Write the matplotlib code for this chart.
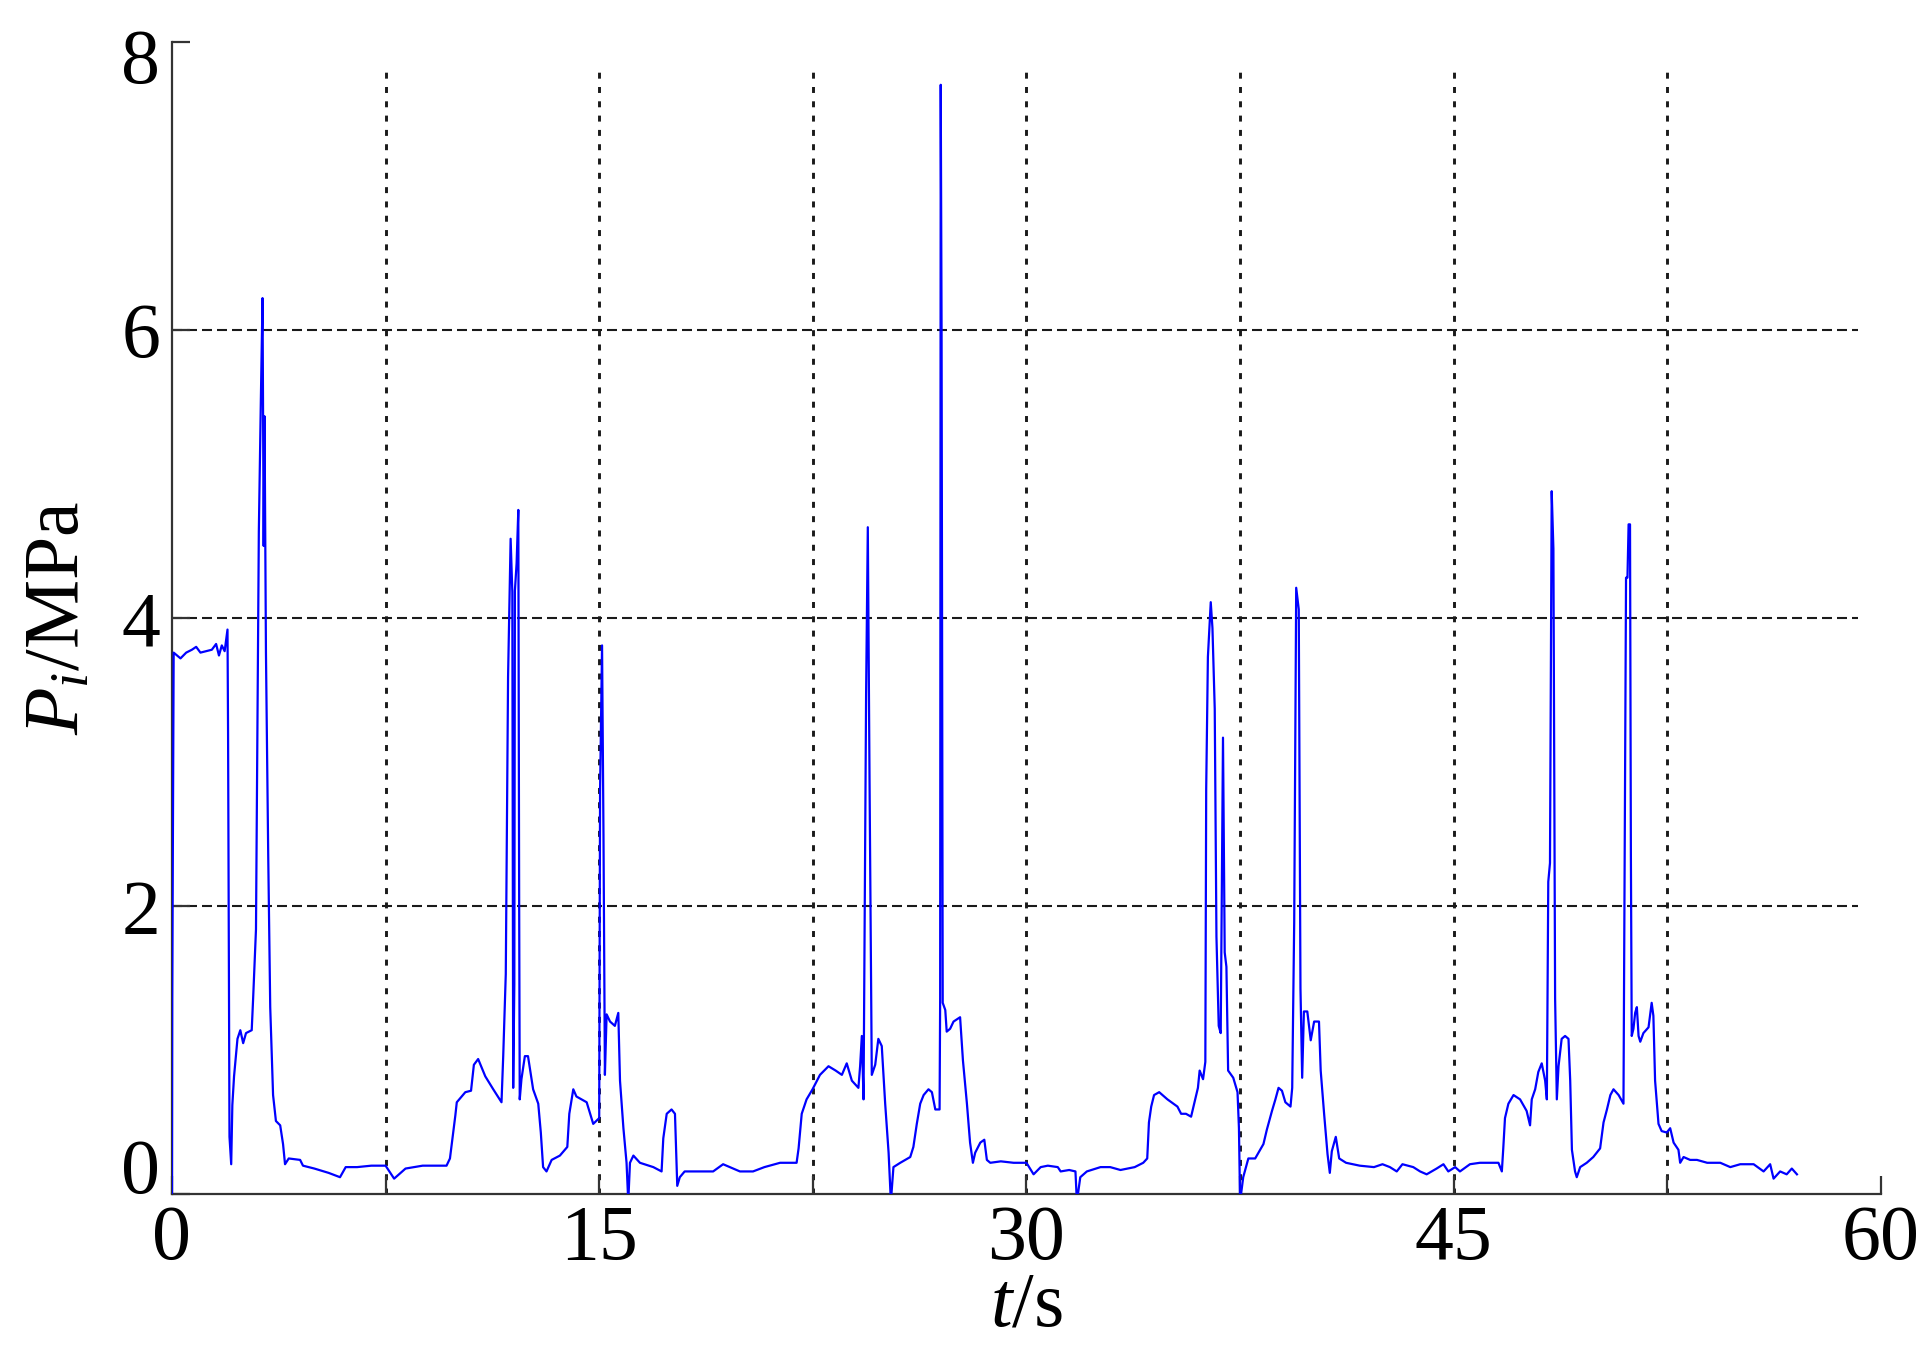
import matplotlib
matplotlib.use("Agg")
import matplotlib.pyplot as plt

plt.rcParams['font.family'] = 'Liberation Serif'
plt.rcParams['mathtext.fontset'] = 'custom'
plt.rcParams['mathtext.rm'] = 'Liberation Serif'
plt.rcParams['mathtext.it'] = 'Liberation Serif:italic'
plt.rcParams['lines.scale_dashes'] = False

# pressure trace (t in s, p in MPa)
t = [0.0, 0.01, 0.06, 0.3, 0.5, 0.7, 0.85, 1.0, 1.2, 1.4, 1.55, 1.65, 1.75, 1.85,
     1.95, 1.97, 2.02, 2.08, 2.12, 2.18, 2.3, 2.4, 2.5, 2.6, 2.8, 2.85, 2.95, 3.05,
     3.12, 3.18, 3.22, 3.25, 3.3, 3.38, 3.45, 3.55, 3.65, 3.8, 3.9, 3.97, 4.1, 4.5,
     4.6, 5.0, 5.5, 5.9, 6.1, 6.5, 7.0, 7.5, 7.8, 8.2, 8.8, 9.64, 9.76, 9.95, 10.0,
     10.3, 10.5, 10.6, 10.75, 11.0, 11.28, 11.57, 11.63, 11.72, 11.8, 11.89, 11.95,
     11.98, 12.02, 12.04, 12.1, 12.16, 12.19, 12.21, 12.27, 12.39, 12.5, 12.57,
     12.68, 12.86, 12.95, 13.03, 13.15, 13.33, 13.62, 13.88, 13.95, 14.09, 14.2,
     14.56, 14.79, 15.0, 15.03, 15.1, 15.15, 15.2, 15.26, 15.38, 15.55, 15.67,
     15.73, 15.85, 15.96, 16.02, 16.08, 16.2, 16.43, 16.9, 17.19, 17.25, 17.37,
     17.54, 17.66, 17.74, 17.83, 18.0, 18.4, 19.0, 19.35, 19.94, 20.4, 20.8, 21.35,
     21.93, 22.0, 22.11, 22.28, 22.49, 22.75, 23.05, 23.3, 23.52, 23.69, 23.87,
     24.1, 24.16, 24.22, 24.28, 24.37, 24.43, 24.49, 24.57, 24.69, 24.8, 24.92,
     25.04, 25.16, 25.24, 25.33, 25.57, 25.92, 26.03, 26.15, 26.27, 26.39, 26.56,
     26.68, 26.8, 26.95, 26.97, 26.99, 27.02, 27.06, 27.15, 27.2, 27.32, 27.44,
     27.67, 27.77, 27.91, 28.02, 28.12, 28.2, 28.38, 28.52, 28.61, 28.73, 29.1,
     29.55, 30.0, 30.25, 30.5, 30.75, 31.1, 31.2, 31.5, 31.72, 31.77, 31.89, 32.12,
     32.6, 32.94, 33.3, 33.8, 34.1, 34.24, 34.3, 34.38, 34.48, 34.66, 34.95, 35.3,
     35.43, 35.6, 35.78, 35.9, 36.02, 36.08, 36.2, 36.28, 36.31, 36.37, 36.47,
     36.53, 36.61, 36.67, 36.75, 36.82, 36.9, 36.96, 37.02, 37.08, 37.26, 37.41,
     37.46, 37.5, 37.61, 37.79, 38.03, 38.32, 38.44, 38.62, 38.74, 38.85, 38.97,
     39.09, 39.27, 39.33, 39.4, 39.47, 39.56, 39.62, 39.68, 39.74, 39.86, 39.98,
     40.1, 40.27, 40.33, 40.45, 40.57, 40.65, 40.72, 40.86, 40.98, 41.22, 41.7,
     42.2, 42.5, 42.76, 43.0, 43.2, 43.58, 43.82, 44.05, 44.4, 44.64, 44.81, 45.05,
     45.22, 45.57, 45.92, 46.57, 46.69, 46.74, 46.8, 46.92, 47.1, 47.33, 47.56,
     47.68, 47.74, 47.86, 47.97, 48.09, 48.21, 48.27, 48.32, 48.38, 48.44, 48.5,
     48.56, 48.62, 48.68, 48.79, 48.91, 49.03, 49.09, 49.15, 49.26, 49.32, 49.44,
     49.67, 49.9, 50.14, 50.26, 50.38, 50.5, 50.61, 50.79, 50.96, 50.98, 51.05,
     51.1, 51.14, 51.19, 51.22, 51.25, 51.31, 51.37, 51.43, 51.49, 51.55, 51.66,
     51.84, 51.95, 52.01, 52.07, 52.19, 52.3, 52.48, 52.6, 52.72, 52.89, 52.95,
     53.07, 53.3, 53.54, 53.9, 54.36, 54.71, 55.06, 55.53, 55.88, 56.11, 56.23,
     56.46, 56.69, 56.87, 57.05]
p = [0.0, 1.37, 3.76, 3.72, 3.76, 3.78, 3.8, 3.76, 3.77, 3.78, 3.82, 3.74, 3.81, 3.77,
     3.92, 3.2, 0.4, 0.21, 0.62, 0.82, 1.08, 1.14, 1.05, 1.12, 1.14, 1.36, 1.84, 4.6,
     5.5, 6.22, 4.5, 5.4, 3.76, 2.35, 1.3, 0.69, 0.51, 0.48, 0.35, 0.21, 0.25, 0.24,
     0.2, 0.18, 0.15, 0.12, 0.19, 0.19, 0.2, 0.2, 0.11, 0.18, 0.2, 0.2, 0.25, 0.55, 0.64,
     0.71, 0.72, 0.9, 0.94, 0.82, 0.73, 0.64, 0.96, 1.53, 3.59, 4.55, 4.18,
     0.74, 1.46, 4.19, 4.38, 4.75, 2.02, 0.66, 0.8, 0.96, 0.96, 0.87,
     0.73, 0.63, 0.43, 0.19, 0.16, 0.24, 0.27, 0.33, 0.56, 0.73, 0.68,
     0.64, 0.49, 0.53, 2.8, 3.81, 2.5, 0.83, 1.25, 1.2, 1.17, 1.26,
     0.79, 0.46, 0.22, -0.05, 0.22, 0.27, 0.22, 0.19, 0.16, 0.39, 0.56,
     0.59, 0.56, 0.06, 0.12, 0.16, 0.16, 0.16, 0.21, 0.16, 0.16, 0.19, 0.22,
     0.22, 0.32, 0.56, 0.66, 0.73, 0.83, 0.89, 0.86, 0.83, 0.91, 0.79,
     0.74, 0.89, 1.1, 0.66, 3.47, 4.63, 2.9, 0.83, 0.9, 1.08, 1.03,
     0.63, 0.29, -0.05, 0.19, 0.22, 0.26, 0.33, 0.49, 0.63, 0.69, 0.73,
     0.71, 0.59, 0.59, 1.36, 7.7, 6.0, 1.33, 1.28, 1.13, 1.15, 1.2,
     1.23, 0.93, 0.63, 0.36, 0.22, 0.29, 0.36, 0.38, 0.24, 0.22, 0.23,
     0.22, 0.22, 0.14, 0.19, 0.2, 0.19, 0.16, 0.17, 0.16, -0.05, 0.12, 0.16,
     0.19, 0.19, 0.17, 0.19, 0.22, 0.25, 0.5, 0.61, 0.69, 0.71, 0.66, 0.61,
     0.56, 0.56, 0.54, 0.64, 0.74, 0.86, 0.8, 0.92, 2.81, 3.73, 4.11,
     3.93, 3.37, 1.79, 1.17, 1.12, 3.17, 1.68, 1.58, 0.86, 0.81, 0.71,
     0.46, -0.05, 0.12, 0.25, 0.25, 0.35, 0.45, 0.58, 0.66, 0.74, 0.72,
     0.64, 0.61, 0.74, 1.89, 4.21, 4.06, 1.43, 0.81, 1.27, 1.27, 1.07,
     1.2, 1.2, 0.86, 0.56, 0.28, 0.15, 0.3, 0.4, 0.25, 0.22, 0.2,
     0.19, 0.21, 0.19, 0.16, 0.21, 0.19, 0.16, 0.14, 0.18, 0.21, 0.16, 0.19,
     0.16, 0.21, 0.22, 0.22, 0.16, 0.32, 0.53, 0.63, 0.69, 0.66, 0.58,
     0.48, 0.66, 0.73, 0.85, 0.91, 0.79, 0.66, 2.17, 2.3, 4.88, 4.48,
     1.36, 0.66, 0.89, 1.08, 1.1, 1.08, 0.79, 0.31, 0.16, 0.12, 0.19,
     0.22, 0.26, 0.32, 0.5, 0.59, 0.69, 0.73, 0.69, 0.63, 1.46, 4.28,
     4.28, 4.65, 4.65, 2.37, 1.1, 1.15, 1.26, 1.3, 1.1, 1.06, 1.12,
     1.16, 1.33, 1.24, 0.79, 0.49, 0.44, 0.43, 0.46, 0.36, 0.31, 0.22,
     0.26, 0.24, 0.24, 0.22, 0.22, 0.19, 0.21, 0.21, 0.16, 0.21, 0.11,
     0.16, 0.14, 0.18, 0.14]

x_ticks = [0, 15, 30, 45, 60]
x_minor = [7.5, 22.5, 37.5, 52.5]
x_grid = [7.5, 15, 22.5, 30, 37.5, 45, 52.5]
y_ticks = [0, 2, 4, 6, 8]
y_grid = [2, 4, 6]

fig = plt.figure(figsize=(19.17, 13.45), dpi=100)
ax = fig.add_axes([0.0897, 0.1119, 0.8915, 0.8572])

# grid drawn by hand: dotted verticals, dashed horizontals, short of the frame
for x in x_grid:
    ax.plot([x, x], [0, 7.82], color='#1a1a1a', lw=2.1, dashes=(4.3, 6.0), zorder=1)
for y in y_grid:
    ax.plot([0, 59.2], [y, y], color='#1a1a1a', lw=1.5, dashes=(7.2, 3.6), zorder=1)

ax.plot(t, p, color='#0000ff', lw=1.6, zorder=3)

ax.set_xlim(0, 60)
ax.set_ylim(0, 8)
ax.spines['top'].set_visible(False)
ax.spines['right'].set_visible(False)
for s in ['left', 'bottom']:
    ax.spines[s].set_color('#333333')
    ax.spines[s].set_linewidth(1.6)

ax.set_xticks(x_ticks)
ax.set_xticks(x_minor, minor=True)
ax.set_yticks(y_ticks)
ax.set_yticklabels([])
ax.tick_params(which='both', direction='in', length=13, width=1.6, color='#333333')
ax.tick_params(axis='x', labelsize=56, pad=7)

# y tick labels placed by hand, end labels kept inside the frame as in the original
y_shift = {0: 21, 8: -10.5}
for v in y_ticks:
    ax.annotate(str(v), xy=(0, v), xycoords=('axes fraction', 'data'),
                xytext=(-8.5, y_shift.get(v, 0)), textcoords='offset points',
                ha='right', va='center_baseline', fontsize=56)

ax.set_xlabel('$t$/s', fontsize=56)
ax.xaxis.set_label_coords(0.5, -0.066)
ax.set_ylabel('$P_i$/MPa', fontsize=56)
ax.yaxis.set_label_coords(-0.045, 0.5)

fig.savefig('out.png', dpi=100)
